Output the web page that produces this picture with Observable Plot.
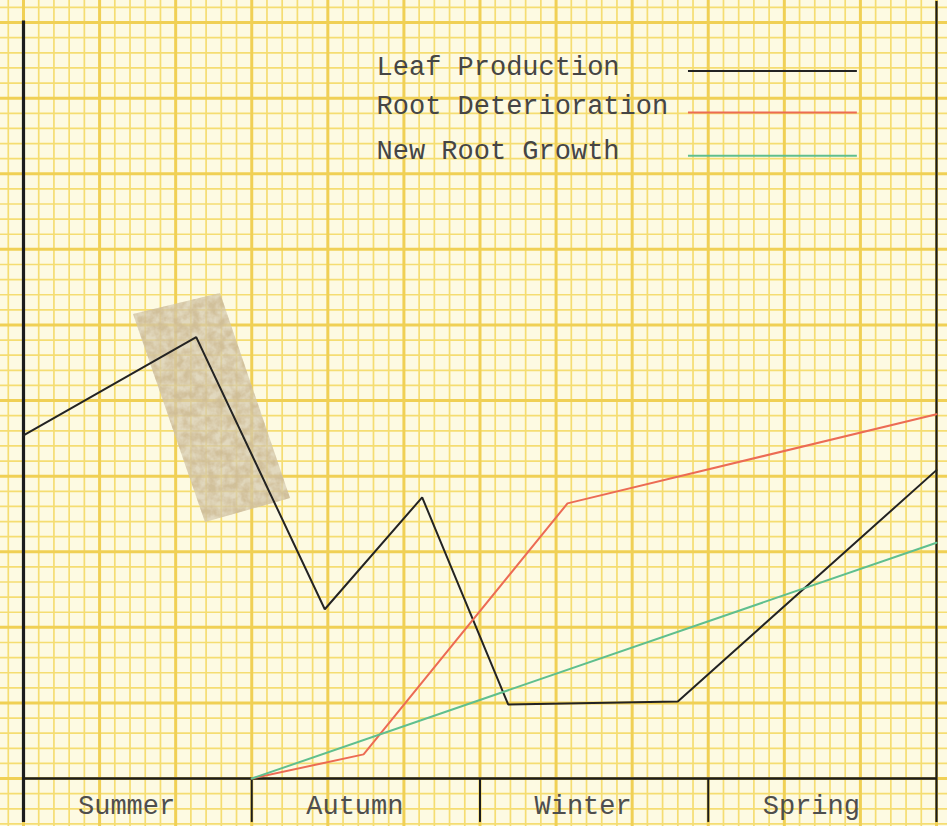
<!DOCTYPE html>
<html><head><meta charset="utf-8">
<script src="https://cdn.jsdelivr.net/npm/d3@7"></script>
<script src="https://cdn.jsdelivr.net/npm/@observablehq/plot@0.6"></script>
<style>
html,body{margin:0;padding:0;background:#fdfae2;}
#chart svg{display:block}
</style></head><body><div id="chart"></div>
<script>
// ---- data (x: months from start of summer, y: graph-paper squares above the baseline)
const seasons = ["Summer", "Autumn", "Winter", "Spring"];
const seriesNames = ["Leaf Production", "Root Deterioration", "New Root Growth"];
const seriesColors = ["#232323", "#ec6b54", "#5fbf8e"];
const leafMonths = [0, 2.27, 3.96, 5.24, 6.37, 8.6, 12];
const leafValues = [22.7, 29.2, 11.2, 18.6, 4.9, 5.1, 20.4];
const rootDetMonths = [3.0, 4.47, 7.15, 12];
const rootDetValues = [0, 1.6, 18.2, 24.1];
const newRootMonths = [3.0, 12];
const newRootValues = [0, 15.6];

const rows = [
  ...leafMonths.map((m, i) => ({series: seriesNames[0], month: m, value: leafValues[i]})),
  ...rootDetMonths.map((m, i) => ({series: seriesNames[1], month: m, value: rootDetValues[i]})),
  ...newRootMonths.map((m, i) => ({series: seriesNames[2], month: m, value: newRootValues[i]}))
];

// ---- layout
const W = 947, H = 826;
const xDomain = [-0.3023, 12.1446];
const yDomain = [-3.17, 51.46];
const font = "'Courier New', Courier, 'Nimbus Mono PS', FreeMono, 'Liberation Mono', 'DejaVu Sans Mono', monospace";
const fineX = d3.range(-1, 62).filter(k => k % 5 !== 0).map(k => k / 5);
const heavyX = d3.range(0, 13);
const fineY = d3.range(-3, 52).filter(k => k % 5 !== 0);
const heavyY = d3.range(0, 52, 5);
const legendTextY = [46.5, 43.95, 41.0];
const legendLineY = [46.8, 44.05, 41.2];

const chart = Plot.plot({
  width: W, height: H, margin: 0,
  x: {domain: xDomain, axis: null},
  y: {domain: yDomain, axis: null},
  color: {domain: seriesNames, range: seriesColors},
  style: {background: "#fdfae2", overflow: "hidden"},
  marks: [
    Plot.ruleX(fineX, {stroke: "#f5dd72", strokeWidth: 1.7}),
    Plot.ruleY(fineY, {stroke: "#f5dd72", strokeWidth: 1.7}),
    Plot.ruleX(heavyX, {stroke: "#f0d055", strokeWidth: 3}),
    Plot.ruleY(heavyY, {stroke: "#f0d055", strokeWidth: 3}),
    // frame drawn on the paper
    Plot.ruleX([0], {y1: -2.9, y2: 50.1, stroke: "#1c1c1c", strokeWidth: 3.2}),
    Plot.ruleX([12], {y1: -2.9, y2: 51.4, stroke: "#1c1c1c", strokeWidth: 2.2}),
    Plot.ruleY([0], {x1: 0, x2: 12, stroke: "#1c1c1c", strokeWidth: 2.4}),
    Plot.ruleX([3, 6, 9], {y1: -2.9, y2: 0, stroke: "#1c1c1c", strokeWidth: 2}),
    Plot.text(seasons, {x: (d, i) => i * 3 + 1.5, y: -1.75, dx: -11, text: d => d,
      fontSize: 27, fontFamily: font, fill: "#4e4e4e", lineAnchor: "middle"}),
    // data lines
    Plot.line(rows, {x: "month", y: "value", z: "series", stroke: "series", strokeWidth: 2,
      strokeLinejoin: "miter", strokeLinecap: "round"}),
    // legend
    Plot.text(seriesNames, {x: 4.64, y: (d, i) => legendTextY[i], text: d => d, textAnchor: "start",
      lineAnchor: "bottom", fontSize: 27, fontFamily: font, fill: "#454545"}),
    Plot.ruleY(seriesNames, {y: (d, i) => legendLineY[i], x1: 8.74, x2: 10.96, stroke: d => d, strokeWidth: 2})
  ]
});

// tape stain on the paper (decoration), placed beneath the data lines
const svg = d3.select(chart);
const defs = svg.insert("defs", ":first-child");
const f = defs.append("filter").attr("id", "mottle").attr("x", "-10%").attr("y", "-10%").attr("width", "120%").attr("height", "120%");
f.append("feTurbulence").attr("type", "fractalNoise").attr("baseFrequency", 0.12).attr("numOctaves", 3).attr("seed", 7).attr("result", "n");
f.append("feColorMatrix").attr("in", "n").attr("type", "matrix")
  .attr("values", "0 0 0 0 0.62  0 0 0 0 0.50  0 0 0 0 0.30  0 0 0 -2.2 1.55").attr("result", "c");
f.append("feComposite").attr("in", "c").attr("in2", "SourceGraphic").attr("operator", "in");
const lineGroup = svg.selectAll("g[aria-label='line']").node();
const stainPts = "133,314 220,293 290,498 205,522";
svg.insert("polygon", () => lineGroup).attr("points", stainPts)
  .attr("fill", "#d6cab0").attr("opacity", 0.72);
svg.insert("polygon", () => lineGroup).attr("points", stainPts)
  .attr("fill", "#a88c5c").attr("opacity", 0.85).attr("filter", "url(#mottle)");

document.getElementById("chart").append(chart);
</script>
</body></html>
